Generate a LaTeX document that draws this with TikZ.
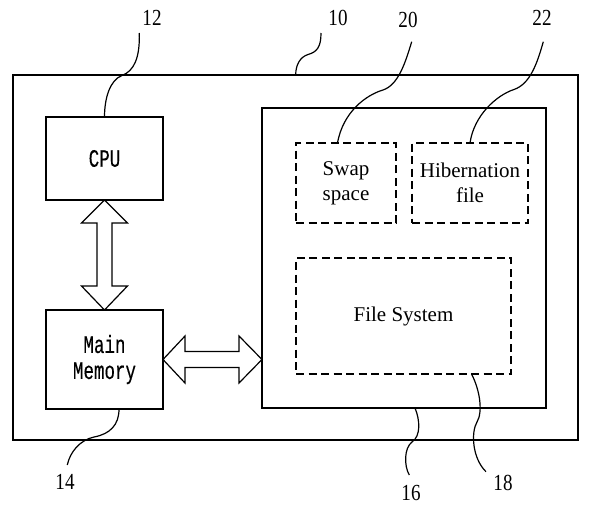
\documentclass[tikz,border=0pt]{standalone}
\usepackage{fontspec}
\setmainfont{Liberation Serif}
\newfontfamily\labfont[FakeStretch=0.83]{Liberation Serif}
\newfontfamily\monofnt[FakeStretch=0.70,FakeBold=0.25]{Liberation Mono}
\usetikzlibrary{calc}
\begin{document}
\begin{tikzpicture}[x=1pt,y=-1pt,
  box/.style={draw, line width=1.4pt, inner sep=0pt, outer sep=0pt, align=center},
  dbox/.style={draw, line width=1.4pt, dash pattern=on 8pt off 4.5pt, inner sep=0pt, outer sep=0pt, align=center},
  txt/.style={font=\fontsize{21}{25}\selectfont},
  mtxt/.style={font=\monofnt\fontsize{25}{26}\selectfont},
  num/.style={font=\labfont\fontsize{23}{25}\selectfont, inner sep=0pt},
  leader/.style={line width=1.2pt},
  blockarrow/.style={draw, line width=1.2pt, fill=white, line join=miter}]
\useasboundingbox (0,0) rectangle (590,509);

% boxes
\node[box, minimum width=565pt, minimum height=365pt] (outer) at (295.5,257.5) {};
\node[box, minimum width=284pt, minimum height=300pt] (inner) at (404,258) {};
\node[box, mtxt, minimum width=117pt, minimum height=83pt] (cpu) at (104.5,158.5) {CPU};
\node[box, mtxt, minimum width=117pt, minimum height=99pt] (mm) at (104.5,359.5) {Main\\Memory};
\node[dbox, txt, minimum width=100pt, minimum height=80pt] (swap) at (346,183) {Swap\\space};
\node[dbox, txt, minimum width=116pt, minimum height=80pt] (hib) at (470,183) {Hibernation\\file};
\node[dbox, txt, minimum width=215pt, minimum height=116pt] (fs) at (403.5,316) {File System};

% labels
\node[num] (l12) at (152,18) {12};
\node[num] (l10) at (338,18) {10};
\node[num] (l20) at (408,20) {20};
\node[num] (l22) at (542,18) {22};
\node[num] (l14) at (65,482) {14};
\node[num] (l16) at (411,493) {16};
\node[num] (l18) at (503,483) {18};

% leader start points (below labels)
\coordinate (s12) at (139.3,33);
\coordinate (s10) at (321,33);
\coordinate (s20) at (411.7,41.7);
\coordinate (s22) at (543.3,41.7);
\coordinate (s14) at (67.3,465);
\coordinate (s16) at (409.3,475);
\coordinate (s18) at (486,471.7);

% leaders
\draw[leader] (s12) .. controls (140,58) and (134,71) .. (122,75.5)
  .. controls (110,80) and (104.5,98) .. (cpu.north);
\draw[leader] (s10) .. controls (321,47) and (317,52) .. (308,54.5)
  .. controls (300,57) and (295.7,65) .. ($(outer.north west)+(282.7,0)$);
\draw[leader] (s20) .. controls (405,64) and (398,85) .. (383,90)
  .. controls (366,95) and (343,112) .. ($(swap.north west)+(41.5,0)$);
\draw[leader] (s22) .. controls (537,64) and (530,84) .. (514,89.5)
  .. controls (497,95) and (474,115) .. (hib.north);
\draw[leader] ($(mm.south)+(14.5,0)$) .. controls (119,425) and (110,434) .. (94,437)
  .. controls (80,440) and (70,452) .. (s14);
\draw[leader] ($(inner.south)+(11,0)$) .. controls (420,420) and (421,436) .. (412,442)
  .. controls (404,448) and (404,466) .. (s16);
\draw[leader] ($(fs.south)+(68,0)$) .. controls (480,390) and (483,412) .. (477,422)
  .. controls (471,432) and (472,458) .. (s18);

% vertical double block arrow CPU <-> Main Memory
\draw[blockarrow] (cpu.south) -- ($(cpu.south)+(23,23)$) -- ($(cpu.south)+(7.5,23)$)
  -- ($(mm.north)+(7.5,-24)$) -- ($(mm.north)+(23,-24)$) -- (mm.north)
  -- ($(mm.north)+(-23,-24)$) -- ($(mm.north)+(-7.5,-24)$)
  -- ($(cpu.south)+(-7.5,23)$) -- ($(cpu.south)+(-23,23)$) -- cycle;

% horizontal double block arrow Main Memory <-> storage
\coordinate (hr) at (inner.west |- mm.east);
\draw[blockarrow] (mm.east) -- ($(mm.east)+(22,-23.5)$) -- ($(mm.east)+(22,-8)$)
  -- ($(hr)+(-23,-8)$) -- ($(hr)+(-23,-23.5)$) -- (hr)
  -- ($(hr)+(-23,23.5)$) -- ($(hr)+(-23,8)$)
  -- ($(mm.east)+(22,8)$) -- ($(mm.east)+(22,23.5)$) -- cycle;
\end{tikzpicture}
\end{document}
